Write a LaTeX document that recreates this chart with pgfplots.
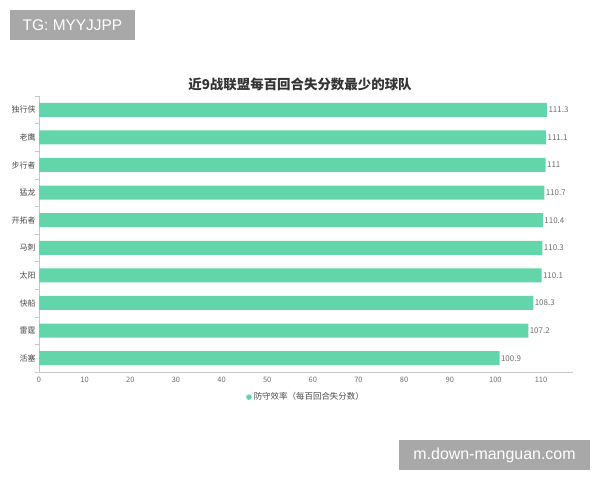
\documentclass[border=0pt]{standalone}
\usepackage{pgfplots}
\pgfplotsset{compat=1.18}
\usepackage{fontspec}
\setmainfont{Noto Sans CJK SC}
\newfontfamily\wm{Liberation Sans}
\definecolor{bargreen}{RGB}{98,214,170}
\definecolor{axgray}{RGB}{200,200,200}
\definecolor{txtgray}{RGB}{110,110,110}
\definecolor{wmgray}{RGB}{168,168,168}

\pgfplotstableread{
y val
0 100.9
1 107.2
2 108.3
3 110.1
4 110.3
5 110.4
6 110.7
7 111.0
8 111.1
9 111.3
}\defense

\begin{document}
\begin{tikzpicture}[x=1bp,y=1bp]
\path[fill=white] (0,0) rectangle (600,480);
% watermarks
\fill[wmgray] (10,440) rectangle (135,470);
\node[text=white,font=\wm\fontsize{15.5}{18}\selectfont] at (72.5,455) {TG: MYYJJPP};
\fill[wmgray] (399,10) rectangle (590,40);
\node[text=white,font=\wm\fontsize{16}{18}\selectfont] at (494.5,25) {m.down-manguan.com};
% title
\node[font=\bfseries\fontsize{13.5}{16}\selectfont,text=black!80] at (300,396) {近9战联盟每百回合失分数最少的球队};
\begin{axis}[
    at={(39bp,108bp)}, anchor=south west,
    scale only axis,
    width=534bp, height=276bp,
    xbar, bar width=14bp,
    xmin=0, xmax=117,
    ymin=-0.5, ymax=9.5,
    xtick={0,10,...,110},
    ytick={0,...,9},
    yticklabels={活塞,雷霆,快船,太阳,马刺,开拓者,猛龙,步行者,老鹰,独行侠},
    extra y ticks={-0.5,0.5,...,9.5},
    extra y tick labels={},
    extra y tick style={major tick length=4bp, tick style={draw=axgray}, tick align=outside},
    major tick length=0pt,
    axis x line*=bottom, axis y line*=left,
    x axis line style={draw=axgray,-},
    y axis line style={draw=axgray,-},
    tick label style={font=\fontsize{7.5}{9}\selectfont, text=txtgray},
    xticklabel style={yshift=-1.5bp},
    yticklabel style={font=\fontsize{8}{9}\selectfont, text=black!70},
    /pgf/number format/assume math mode=true,
    nodes near coords,
    nodes near coords style={font=\fontsize{8}{9}\selectfont, text=txtgray, anchor=west, xshift=-2bp},
    legend style={at={(0.5,-0.06)}, anchor=north, draw=none, font=\fontsize{8.5}{10}\selectfont, text=black!70},
    legend image code/.code={\fill[bargreen] (0.15cm,0cm) circle (2.8bp);},
]
\addplot[draw=none, fill=bargreen] table[x=val,y=y] {\defense};
\addlegendentry{防守效率（每百回合失分数）}
\end{axis}
\end{tikzpicture}
\end{document}
